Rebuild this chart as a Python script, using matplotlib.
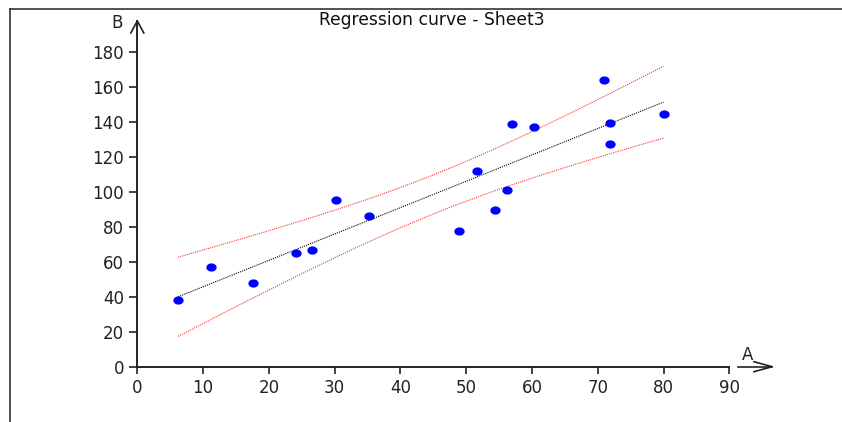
import numpy as np
import matplotlib
matplotlib.use("Agg")
import matplotlib.pyplot as plt
from matplotlib.path import Path
from matplotlib.lines import Line2D

# ---- data ----
A = [6.2, 11.2, 17.6, 24.2, 26.6, 30.2, 35.3, 48.9, 51.6, 54.4,
     56.2, 57.0, 60.3, 71.0, 71.9, 71.9, 80.0]
B = [38.2, 57.3, 48.1, 65.0, 66.7, 95.5, 86.4, 77.6, 112.3, 89.8,
     101.4, 139.1, 137.4, 164.2, 139.8, 127.6, 144.4]
x_ticks = [0, 10, 20, 30, 40, 50, 60, 70, 80, 90]
y_ticks = [0, 20, 40, 60, 80, 100, 120, 140, 160, 180]
title = "Regression curve - Sheet3"
x_label = "A"
y_label = "B"
t_crit = 2.947  # Student t, 99%, df = 15

plt.rcParams['font.family'] = ['DejaVu Sans']

W, H = 842, 422
fig = plt.figure(figsize=(W / 100, H / 100), dpi=100)
fig.patch.set_facecolor('white')

def fx(px):
    return px / W

def fy(py):
    return (H - py) / H

x0p, x1p = 137.3, 729.3
y0p, y1p = 366.7, 52.3
ax = fig.add_axes([fx(x0p), fy(y0p), fx(x1p) - fx(x0p), fy(y1p) - fy(y0p)])
ax.set_xlim(0, 90)
ax.set_ylim(0, 180)
for s in ax.spines.values():
    s.set_visible(False)
ax.set_facecolor('none')

# regression + confidence band
xa = np.array(A)
ya = np.array(B)
n = len(xa)
slope, intercept = np.polyfit(xa, ya, 1)
resid = ya - (slope * xa + intercept)
s = np.sqrt(np.sum(resid ** 2) / (n - 2))
sxx = np.sum((xa - xa.mean()) ** 2)
grid = np.linspace(xa.min(), xa.max(), 200)
fit = slope * grid + intercept
half = t_crit * s * np.sqrt(1.0 / n + (grid - xa.mean()) ** 2 / sxx)

ax.plot(grid, fit, color='black', lw=0.8, ls=(0, (1, 1)), zorder=2)
ax.plot(grid, fit + half, color='#ff3030', lw=0.8, ls=(0, (1, 1)), zorder=2)
ax.plot(grid, fit - half, color='#ff3030', lw=0.8, ls=(0, (1, 1)), zorder=2)

# elliptical marker
th = np.linspace(0, 2 * np.pi, 40)
ell = Path(np.column_stack([1.25 * np.cos(th), np.sin(th)]), closed=True)
ax.plot(A, B, ls='none', marker=ell, markersize=7.4, color='#0000ff',
        markeredgewidth=0, zorder=3)

# ticks
ax.set_xticks(x_ticks)
ax.set_yticks(y_ticks)
ax.tick_params(axis='x', direction='out', length=5, width=1.2, pad=3.5,
               labelsize=12, colors='#222222')
ax.tick_params(axis='y', direction='out', length=6, width=1.2, pad=3.5,
               labelsize=12, colors='#222222')

axc = '#222222'
def fline(xs, ys, **kw):
    fig.add_artist(Line2D([fx(v) for v in xs], [fy(v) for v in ys],
                          transform=fig.transFigure, **kw))

# axis lines with open arrow heads
fline([x0p, x0p], [y0p, 21], color=axc, lw=1.4)
fline([x0p - 6.5, x0p, x0p + 6.5], [33, 21, 33], color=axc, lw=1.2)
fline([x0p, x1p], [y0p, y0p], color=axc, lw=1.4)
fline([737.5, 772], [y0p, y0p], color=axc, lw=1.2)
fline([754, 772, 754], [y0p - 5, y0p, y0p + 5], color=axc, lw=1.2)

# frame (top and left)
fline([10, 10], [9.3, 422], color='#333333', lw=1.2)
fline([10, 842], [9.3, 9.3], color='#333333', lw=1.2)

fig.text(fx(117.5), fy(23.5), y_label, ha='center', va='center', fontsize=12,
         color='#222222')
fig.text(fx(747.5), fy(354.5), x_label, ha='center', va='center', fontsize=12,
         color='#222222')
fig.text(fx(432), fy(20), title, ha='center', va='center', fontsize=12.3,
         color='#111111')

fig.savefig('out.png', dpi=100, facecolor='white')
